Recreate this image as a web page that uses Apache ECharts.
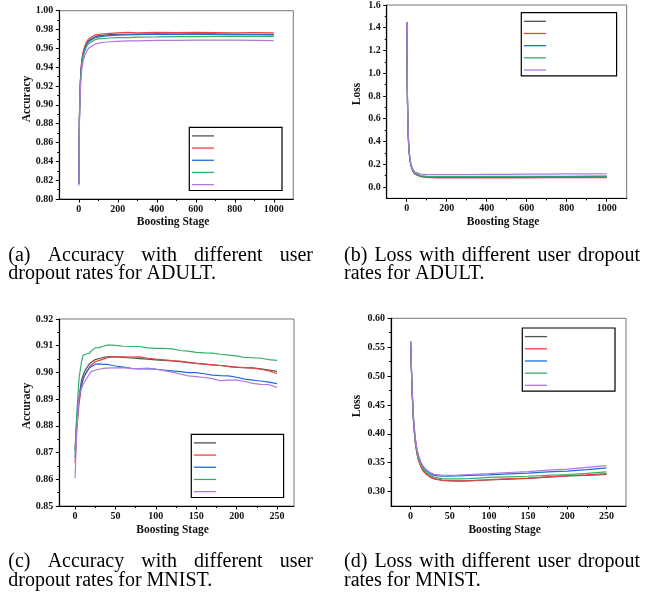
<!DOCTYPE html>
<html><head><meta charset="utf-8">
<script src="https://cdn.jsdelivr.net/npm/echarts@6/dist/echarts.min.js"></script>
<style>html,body{margin:0;padding:0;background:#fff}#c{width:646px;height:597px}</style>
</head><body><div id="c"></div>
<script>
// ---------- series (legend shows only line samples) ----------
const seriesNames = ['Dropout rate 1', 'Dropout rate 2', 'Dropout rate 3', 'Dropout rate 4', 'Dropout rate 5'];
const seriesColors = ['#515151', '#F14040', '#1A6FDF', '#37AD6B', '#B177DE'];

// ---------- (a) Accuracy, ADULT ----------
const adultAccStages = [0, 3, 6, 10, 15, 20, 30, 40, 50, 60, 80, 100, 130, 160, 200, 250, 300, 400, 500, 600, 700, 800, 900, 1000];
const adultAcc1 = [0.817, 0.884, 0.913, 0.933, 0.945, 0.952, 0.960, 0.965, 0.968, 0.970, 0.972, 0.9735, 0.974, 0.9745, 0.975, 0.975, 0.9752, 0.9755, 0.9752, 0.9755, 0.9753, 0.9752, 0.975, 0.9748];
const adultAcc2 = [0.816, 0.885, 0.915, 0.935, 0.947, 0.954, 0.962, 0.967, 0.970, 0.972, 0.974, 0.975, 0.9755, 0.976, 0.9765, 0.977, 0.9765, 0.977, 0.9768, 0.977, 0.9768, 0.9766, 0.9767, 0.9765];
const adultAcc3 = [0.816, 0.883, 0.912, 0.932, 0.944, 0.951, 0.959, 0.964, 0.967, 0.969, 0.971, 0.972, 0.973, 0.9735, 0.974, 0.9742, 0.9745, 0.975, 0.9748, 0.975, 0.9748, 0.9745, 0.9745, 0.9742];
const adultAcc4 = [0.816, 0.882, 0.910, 0.930, 0.942, 0.949, 0.957, 0.962, 0.965, 0.967, 0.969, 0.970, 0.9705, 0.971, 0.9713, 0.9715, 0.972, 0.9722, 0.9725, 0.9725, 0.9727, 0.9728, 0.9728, 0.9728];
const adultAcc5 = [0.814, 0.878, 0.905, 0.925, 0.937, 0.944, 0.952, 0.957, 0.960, 0.962, 0.964, 0.9655, 0.9665, 0.967, 0.9675, 0.968, 0.968, 0.9685, 0.9685, 0.9688, 0.9688, 0.9687, 0.9685, 0.9682];

// ---------- (b) Loss, ADULT ----------
const adultLossStages = [0, 2, 4, 6, 8, 10, 15, 20, 30, 40, 50, 70, 100, 150, 200, 300, 400, 500, 600, 700, 800, 900, 1000];
const adultLoss1 = [1.45, 1.02, 0.74, 0.56, 0.44, 0.36, 0.25, 0.196, 0.142, 0.117, 0.104, 0.092, 0.086, 0.084, 0.084, 0.084, 0.085, 0.085, 0.086, 0.086, 0.087, 0.087, 0.088];
const adultLoss2 = [1.45, 1.02, 0.74, 0.56, 0.44, 0.36, 0.25, 0.195, 0.140, 0.115, 0.102, 0.090, 0.083, 0.080, 0.079, 0.079, 0.079, 0.080, 0.080, 0.081, 0.081, 0.082, 0.082];
const adultLoss3 = [1.45, 1.03, 0.75, 0.57, 0.45, 0.37, 0.26, 0.200, 0.146, 0.121, 0.108, 0.096, 0.090, 0.088, 0.088, 0.088, 0.089, 0.089, 0.090, 0.090, 0.091, 0.091, 0.092];
const adultLoss4 = [1.45, 1.03, 0.75, 0.57, 0.45, 0.37, 0.26, 0.202, 0.148, 0.123, 0.110, 0.098, 0.092, 0.091, 0.091, 0.091, 0.092, 0.092, 0.093, 0.094, 0.094, 0.095, 0.095];
const adultLoss5 = [1.45, 1.04, 0.76, 0.58, 0.46, 0.38, 0.27, 0.212, 0.158, 0.134, 0.122, 0.113, 0.109, 0.108, 0.108, 0.109, 0.110, 0.111, 0.112, 0.113, 0.114, 0.115, 0.116];

// ---------- (c) Accuracy, MNIST ----------
const mnistAccStages = [0, 2, 5, 8, 10, 12, 15, 18, 20, 25, 30, 35, 40, 45, 50, 60, 70, 80, 90, 100, 110, 120, 130, 140, 150, 160, 170, 180, 190, 200, 210, 220, 230, 240, 250];
const mnistAcc1 = [0.871, 0.882, 0.891, 0.897, 0.899, 0.9005, 0.902, 0.9033, 0.904, 0.9048, 0.9052, 0.9056, 0.9058, 0.9059, 0.9058, 0.9056, 0.9054, 0.9052, 0.905, 0.9047, 0.9045, 0.9043, 0.904, 0.9037, 0.9034, 0.9031, 0.9028, 0.9026, 0.9023, 0.9019, 0.9018, 0.9017, 0.9013, 0.9009, 0.9004];
const mnistAcc2 = [0.866, 0.878, 0.8885, 0.895, 0.8975, 0.899, 0.9005, 0.902, 0.9028, 0.904, 0.9045, 0.905, 0.9055, 0.9058, 0.9058, 0.9058, 0.9057, 0.9058, 0.9053, 0.905, 0.9047, 0.9044, 0.9042, 0.9038, 0.9034, 0.9031, 0.9028, 0.9026, 0.9022, 0.902, 0.9018, 0.9016, 0.9012, 0.9006, 0.8996];
const mnistAcc3 = [0.868, 0.880, 0.890, 0.8955, 0.8975, 0.899, 0.9005, 0.9018, 0.9025, 0.9031, 0.9032, 0.903, 0.903, 0.9027, 0.9024, 0.902, 0.9015, 0.9013, 0.9013, 0.9012, 0.9009, 0.9006, 0.9003, 0.8999, 0.8999, 0.8995, 0.899, 0.8988, 0.8987, 0.8982, 0.8975, 0.8971, 0.8968, 0.8964, 0.8958];
const mnistAcc4 = [0.870, 0.884, 0.898, 0.904, 0.9065, 0.907, 0.907, 0.9072, 0.908, 0.9092, 0.9093, 0.9098, 0.9102, 0.9102, 0.9101, 0.9098, 0.9097, 0.9097, 0.9092, 0.909, 0.909, 0.9088, 0.9082, 0.908, 0.9075, 0.9073, 0.9072, 0.9068, 0.9065, 0.9062, 0.9056, 0.9055, 0.9053, 0.9048, 0.9045];
const mnistAcc5 = [0.8605, 0.878, 0.8915, 0.894, 0.8955, 0.8965, 0.898, 0.8995, 0.9003, 0.9008, 0.9012, 0.9015, 0.9016, 0.9017, 0.9017, 0.9018, 0.9014, 0.9014, 0.9016, 0.9012, 0.9007, 0.9001, 0.8994, 0.8987, 0.8984, 0.8981, 0.8977, 0.8969, 0.8971, 0.8971, 0.8966, 0.8959, 0.8955, 0.8954, 0.8944];

// ---------- (d) Loss, MNIST ----------
const mnistLossStages = [0, 2, 4, 6, 8, 10, 13, 16, 20, 25, 30, 40, 50, 60, 75, 100, 125, 150, 175, 200, 225, 250];
const mnistLoss1 = [0.560, 0.470, 0.415, 0.385, 0.367, 0.355, 0.344, 0.336, 0.3305, 0.3255, 0.3225, 0.320, 0.319, 0.3185, 0.319, 0.320, 0.3215, 0.323, 0.325, 0.327, 0.328, 0.3295];
const mnistLoss2 = [0.560, 0.470, 0.415, 0.385, 0.367, 0.355, 0.344, 0.336, 0.330, 0.325, 0.322, 0.3195, 0.3185, 0.318, 0.3185, 0.3205, 0.322, 0.3235, 0.3255, 0.3275, 0.329, 0.331];
const mnistLoss3 = [0.560, 0.474, 0.421, 0.391, 0.373, 0.361, 0.350, 0.342, 0.336, 0.331, 0.328, 0.3265, 0.3265, 0.327, 0.328, 0.329, 0.3305, 0.332, 0.334, 0.3355, 0.338, 0.341];
const mnistLoss4 = [0.560, 0.472, 0.418, 0.388, 0.370, 0.358, 0.347, 0.339, 0.333, 0.328, 0.325, 0.3225, 0.322, 0.322, 0.3225, 0.3245, 0.3255, 0.3265, 0.328, 0.3295, 0.3315, 0.334];
const mnistLoss5 = [0.560, 0.476, 0.423, 0.393, 0.375, 0.363, 0.352, 0.344, 0.338, 0.333, 0.330, 0.3285, 0.328, 0.3285, 0.3295, 0.331, 0.333, 0.3345, 0.337, 0.339, 0.342, 0.345];

// ---------- tick labels ----------
const adultStageTicks = [0, 200, 400, 600, 800, 1000];
const adultStageMinor = [100, 300, 500, 700, 900];
const mnistStageTicks = [0, 50, 100, 150, 200, 250];
const mnistStageMinor = [25, 75, 125, 175, 225];
const adultAccTicks = [0.80, 0.82, 0.84, 0.86, 0.88, 0.90, 0.92, 0.94, 0.96, 0.98, 1.00];
const adultAccMinor = [0.81, 0.83, 0.85, 0.87, 0.89, 0.91, 0.93, 0.95, 0.97, 0.99];
const adultLossTicks = [0.0, 0.2, 0.4, 0.6, 0.8, 1.0, 1.2, 1.4, 1.6];
const adultLossMinor = [0.1, 0.3, 0.5, 0.7, 0.9, 1.1, 1.3, 1.5];
const mnistAccTicks = [0.85, 0.86, 0.87, 0.88, 0.89, 0.90, 0.91, 0.92];
const mnistAccMinor = [0.855, 0.865, 0.875, 0.885, 0.895, 0.905, 0.915];
const mnistLossTicks = [0.30, 0.35, 0.40, 0.45, 0.50, 0.55, 0.60];
const mnistLossMinor = [0.325, 0.375, 0.425, 0.475, 0.525, 0.575];

const captions = [
  ['(a) Accuracy with different user', 'dropout rates for ADULT.'],
  ['(b) Loss with different user dropout', 'rates for ADULT.'],
  ['(c) Accuracy with different user', 'dropout rates for MNIST.'],
  ['(d) Loss with different user dropout', 'rates for MNIST.']
];

// ---------- build ----------
const FONT = '"Liberation Serif", "Times New Roman", serif';
const panels = [
  { grid: {left: 59.3, top: 10.7, width: 234, height: 188.3},
    x: {min: -100, max: 1100, ticks: adultStageTicks, minor: adultStageMinor, dec: 0},
    y: {min: 0.80, max: 1.00, ticks: adultAccTicks, minor: adultAccMinor, dec: 2},
    stages: adultAccStages, values: [adultAcc1, adultAcc2, adultAcc3, adultAcc4, adultAcc5],
    legend: {left: 189.3, top: 127.3, padRight: 67.4},
    yTitle: {text: 'Accuracy', x: 26.7, y: 99}, xTitle: {x: 173, y: 221.7} },
  { grid: {left: 386.7, top: 4.7, width: 240, height: 193.6},
    x: {min: -100, max: 1100, ticks: adultStageTicks, minor: adultStageMinor, dec: 0},
    y: {min: -0.1, max: 1.6, ticks: adultLossTicks, minor: adultLossMinor, dec: 1},
    stages: adultLossStages, values: [adultLoss1, adultLoss2, adultLoss3, adultLoss4, adultLoss5],
    legend: {left: 521.3, top: 12.7, padRight: 70},
    yTitle: {text: 'Loss', x: 357.3, y: 94}, xTitle: {x: 503, y: 221.7} },
  { grid: {left: 59.3, top: 319, width: 234.7, height: 187},
    x: {min: -19.5, max: 271, ticks: mnistStageTicks, minor: mnistStageMinor, dec: 0},
    y: {min: 0.85, max: 0.92, ticks: mnistAccTicks, minor: mnistAccMinor, dec: 2},
    stages: mnistAccStages, values: [mnistAcc1, mnistAcc2, mnistAcc3, mnistAcc4, mnistAcc5],
    legend: {left: 191.3, top: 434.3, padRight: 67},
    yTitle: {text: 'Accuracy', x: 26.7, y: 406}, xTitle: {x: 172.5, y: 530} },
  { grid: {left: 391, top: 318.3, width: 235, height: 187.7},
    x: {min: -25, max: 275, ticks: mnistStageTicks, minor: mnistStageMinor, dec: 0},
    y: {min: 0.275, max: 0.60, ticks: mnistLossTicks, minor: mnistLossMinor, dec: 2},
    stages: mnistLossStages, values: [mnistLoss1, mnistLoss2, mnistLoss3, mnistLoss4, mnistLoss5],
    legend: {left: 522.3, top: 328, padRight: 67.4},
    yTitle: {text: 'Loss', x: 357.3, y: 406}, xTitle: {x: 504.7, y: 530.5} }
];

const option = {animation: false, textStyle: {fontFamily: FONT}, grid: [], xAxis: [], yAxis: [], series: [], legend: [], graphic: []};
const labelStyle = {fontFamily: FONT, fontWeight: 'bold', fontSize: 10, color: '#111'};

panels.forEach((p, gi) => {
  option.grid.push(Object.assign({show: true, borderColor: '#777', borderWidth: 1, backgroundColor: 'transparent'}, p.grid));
  const mk = (ax, pos, isMain, margin) => ({
    type: 'value', gridIndex: gi, min: ax.min, max: ax.max, position: pos,
    axisLine: {show: isMain, onZero: false, lineStyle: {color: '#000', width: 1.2}},
    axisTick: {show: true, length: isMain ? 3.5 : 2, customValues: isMain ? ax.ticks : ax.minor, lineStyle: {color: '#000', width: 1}},
    axisLabel: isMain ? Object.assign({customValues: ax.ticks, margin: margin, formatter: v => Number(v).toFixed(ax.dec)}, labelStyle) : {show: false},
    splitLine: {show: false}
  });
  option.xAxis.push(mk(p.x, 'bottom', true, 5), mk(p.x, 'bottom', false, 5));
  option.yAxis.push(mk(p.y, 'left', true, 6), mk(p.y, 'left', false, 6));
  p.values.forEach((vals, si) => {
    option.series.push({
      type: 'line', name: seriesNames[si], xAxisIndex: gi * 2, yAxisIndex: gi * 2,
      data: p.stages.map((s, k) => [s, vals[k]]),
      symbol: 'none', showSymbol: false, silent: true, clip: true,
      lineStyle: {width: 1.2, color: seriesColors[si]}, itemStyle: {color: seriesColors[si]}
    });
  });
  option.legend.push({
    data: seriesNames, orient: 'vertical', left: p.legend.left, top: p.legend.top,
    padding: [2.5, p.legend.padRight, 1, 2], itemWidth: 22, itemHeight: 12.2, itemGap: 1.2,
    borderColor: '#000', borderWidth: 1.2, selectedMode: false,
    itemStyle: {opacity: 0, borderWidth: 0}, lineStyle: {width: 1.3},
    formatter: () => '', textStyle: {fontSize: 8}
  });
  option.graphic.push({type: 'text', x: p.yTitle.x, y: p.yTitle.y, rotation: Math.PI / 2,
    style: {text: p.yTitle.text, fontFamily: FONT, fontWeight: 'bold', fontSize: 11.5, fill: '#111', align: 'center', verticalAlign: 'middle'}});
  option.graphic.push({type: 'text', x: p.xTitle.x, y: p.xTitle.y,
    style: {text: 'Boosting Stage', fontFamily: FONT, fontWeight: 'bold', fontSize: 11.5, fill: '#111', align: 'center', verticalAlign: 'middle'}});
});

// captions (first line justified like the paper layout)
const cv = document.createElement('canvas').getContext('2d');
cv.font = '20px "Liberation Serif"';
const capLayout = [
  {left: 8.3, right: 313, y1: 256, y2: 274},
  {left: 344, right: 640, y1: 256, y2: 274},
  {left: 8.3, right: 313, y1: 562, y2: 580.5},
  {left: 344, right: 640, y1: 562, y2: 580.5}
];
captions.forEach((lines, ci) => {
  const L = capLayout[ci];
  const words = lines[0].split(' ');
  const widths = words.map(w => cv.measureText(w).width);
  const total = widths.reduce((a, b) => a + b, 0);
  const gap = (L.right - L.left - total) / (words.length - 1);
  let x = L.left;
  words.forEach((w, k) => {
    option.graphic.push({type: 'text', x: x, y: L.y1,
      style: {text: w, fontFamily: '"Liberation Serif"', fontSize: 20, fill: '#000', align: 'left', verticalAlign: 'middle'}});
    x += widths[k] + gap;
  });
  option.graphic.push({type: 'text', x: L.left, y: L.y2,
    style: {text: lines[1], fontFamily: '"Liberation Serif"', fontSize: 20, fill: '#000', align: 'left', verticalAlign: 'middle'}});
});

const chart = echarts.init(document.getElementById('c'), null, {renderer: 'canvas'});
chart.setOption(option);
</script>
</body></html>
